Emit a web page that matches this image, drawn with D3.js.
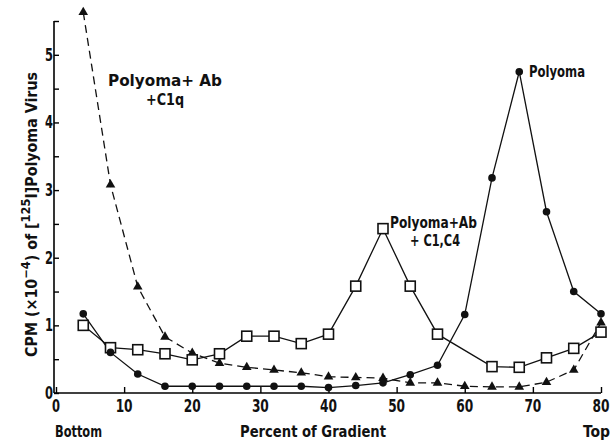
<!DOCTYPE html>
<html>
<head>
<meta charset="utf-8">
<script src="https://cdn.jsdelivr.net/npm/d3@7"></script>
<style>
  body { margin: 0; background: #fff; }
  text { font-family: "Liberation Sans Narrow", "DejaVu Sans Condensed", sans-serif; font-weight: bold; fill: #111; }
</style>
</head>
<body>
<div id="chart"></div>
<script>
// percent of gradient, fractions every 4%
const fractions = [4, 8, 12, 16, 20, 24, 28, 32, 36, 40, 44, 48, 52, 56, 60, 64, 68, 72, 76, 80];

// Polyoma (filled circles)
const polyoma = [1.17, 0.6, 0.28, 0.1, 0.1, 0.1, 0.1, 0.1, 0.1, 0.08, 0.11, 0.15, 0.27, 0.41, 1.16, 3.18, 4.75, 2.68, 1.5, 1.17];

// Polyoma + Ab + C1,C4 (open squares), no fraction at 60
const abC1C4 = [1.0, 0.67, 0.64, 0.58, 0.49, 0.58, 0.84, 0.84, 0.73, 0.87, 1.58, 2.43, 1.58, 0.87, null, 0.39, 0.38, 0.52, 0.66, 0.9];

// Polyoma + Ab + C1q (filled triangles, dashed)
const abC1q = [5.63, 3.08, 1.57, 0.83, 0.59, 0.44, 0.38, 0.34, 0.3, 0.24, 0.23, 0.22, 0.15, 0.15, 0.1, 0.09, 0.09, 0.16, 0.34, 1.04];

const xTicks = [0, 10, 20, 30, 40, 50, 60, 70, 80];
const yTicks = [0, 1, 2, 3, 4, 5];
const yMinor = [0.5, 1.5, 2.5, 3.5, 4.5, 5.5];

const width = 612, height = 443;

const svg = d3.select("#chart")
  .append("svg")
    .attr("width", width)
    .attr("height", height);

const x = d3.scaleLinear().domain([0, 80]).range([56, 601]);
const y = d3.scaleLinear().domain([0, 5.5]).range([393, 21]);

// x-axis, ticks point up into the plot
const xAxis = svg.append("g")
  .attr("transform", `translate(0,${y(0)})`)
  .call(d3.axisTop(x).tickValues(xTicks).tickSize(6).tickFormat(""));
xAxis.select(".domain").attr("d", `M${x(0) - 2},0H${x(80)}`).attr("stroke-width", 1.6);
xAxis.selectAll(".tick line").attr("stroke-width", 1.4);

// x tick labels
svg.append("g").selectAll("text")
  .data(xTicks)
  .join("text")
    .attr("x", d => x(d))
    .attr("y", 412)
    .attr("text-anchor", "middle")
    .attr("textLength", d => d === 0 ? 8 : 17)
    .attr("lengthAdjust", "spacingAndGlyphs")
    .style("font-size", "17px")
    .text(d => d);

// y-axis, ticks point right into the plot
const yAxis = svg.append("g")
  .attr("transform", `translate(${x(0) - 2},0)`)
  .call(d3.axisRight(y).tickValues(yTicks.concat(yMinor)).tickSize(5).tickFormat(""));
yAxis.select(".domain").attr("d", `M0,${y(0)}V${y(5.5)}`).attr("stroke-width", 1.6);
yAxis.selectAll(".tick line").attr("stroke-width", 1.4);

svg.append("g").selectAll("text")
  .data(yTicks)
  .join("text")
    .attr("x", x(0) - 3)
    .attr("y", d => y(d) + 6)
    .attr("text-anchor", "end")
    .attr("textLength", 8)
    .attr("lengthAdjust", "spacingAndGlyphs")
    .style("font-size", "17px")
    .text(d => d);

// text with fixed width to mimic the narrow typeface
const narrow = (s, tx, ty, len, size, anchor) => svg.append("text")
  .attr("x", tx)
  .attr("y", ty)
  .attr("text-anchor", anchor || "start")
  .attr("textLength", len)
  .attr("lengthAdjust", "spacingAndGlyphs")
  .style("font-size", size + "px")
  .text(s);

// axis titles
narrow("Bottom", 55, 437, 47, 16);
narrow("Percent of Gradient", 240, 437, 146, 16);
narrow("Top", 583, 437, 27, 16);

const yLab = svg.append("text")
  .attr("transform", "translate(37,357) rotate(-90)")
  .attr("textLength", 285)
  .attr("lengthAdjust", "spacingAndGlyphs")
  .style("font-size", "15px");
yLab.append("tspan").text("CPM (×10");
yLab.append("tspan").attr("dy", -7).style("font-size", "12px").text("−4");
yLab.append("tspan").attr("dy", 7).text(") of [");
yLab.append("tspan").attr("dy", -7).style("font-size", "12px").text("125");
yLab.append("tspan").attr("dy", 7).text("I]Polyoma Virus");

// lines
const pts = vals => fractions.map((f, i) => ({ f, v: vals[i] })).filter(d => d.v !== null);
const line = d3.line().x(d => x(d.f)).y(d => y(d.v));

svg.append("path")
  .datum(pts(abC1q))
  .attr("fill", "none")
  .attr("stroke", "#111")
  .attr("stroke-width", 1.3)
  .attr("stroke-dasharray", "8,5")
  .attr("d", line);

svg.append("path")
  .datum(pts(abC1C4))
  .attr("fill", "none")
  .attr("stroke", "#111")
  .attr("stroke-width", 1.3)
  .attr("d", line);

svg.append("path")
  .datum(pts(polyoma))
  .attr("fill", "none")
  .attr("stroke", "#111")
  .attr("stroke-width", 1.3)
  .attr("d", line);

// markers
svg.append("g").selectAll("path")
  .data(pts(abC1q))
  .join("path")
    .attr("transform", d => `translate(${x(d.f)},${y(d.v)})`)
    .attr("d", d3.symbol(d3.symbolTriangle, 40))
    .attr("fill", "#111");

svg.append("g").selectAll("rect")
  .data(pts(abC1C4))
  .join("rect")
    .attr("x", d => x(d.f) - 5)
    .attr("y", d => y(d.v) - 5)
    .attr("width", 10)
    .attr("height", 10)
    .attr("fill", "#fff")
    .attr("stroke", "#111")
    .attr("stroke-width", 1.6);

svg.append("g").selectAll("circle")
  .data(pts(polyoma))
  .join("circle")
    .attr("cx", d => x(d.f))
    .attr("cy", d => y(d.v))
    .attr("r", 3.8)
    .attr("fill", "#111");

// series labels
narrow("Polyoma+ Ab", 108, 86, 114, 16);
narrow("+C1q", 146, 105, 38, 16);
narrow("Polyoma", 529, 77, 56, 16);
narrow("Polyoma+Ab", 390, 228, 87, 16);
narrow("+ C1,C4", 410, 246, 50, 16);
</script>
</body>
</html>
